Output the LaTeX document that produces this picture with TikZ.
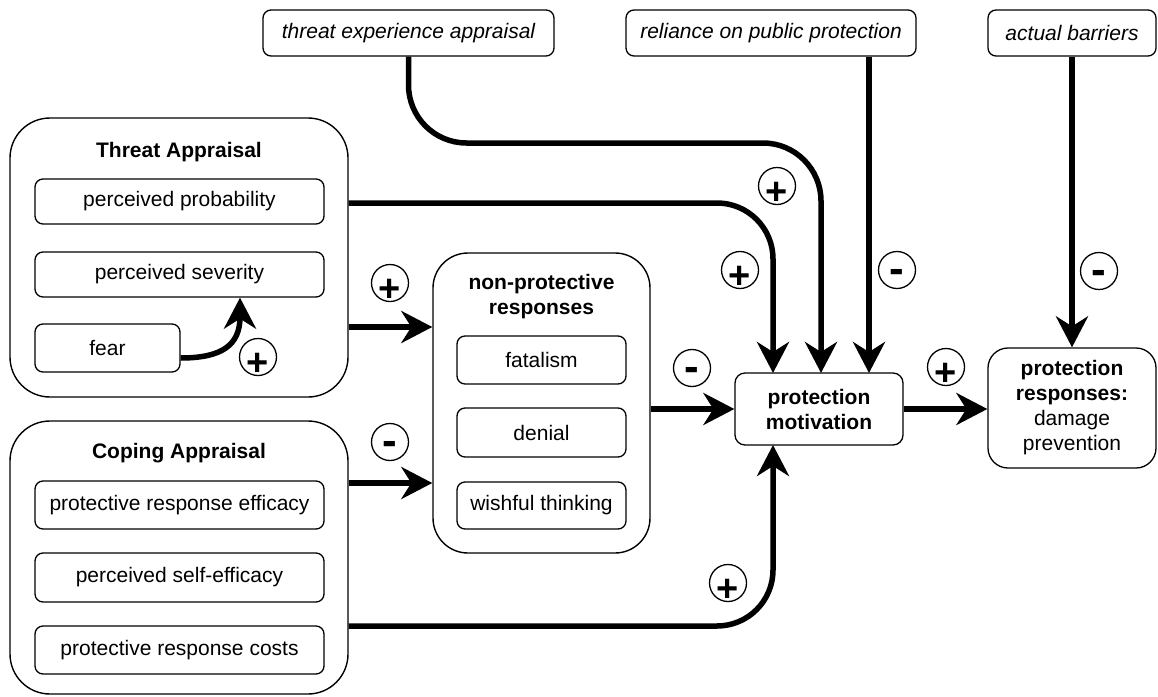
\documentclass[tikz,border=0pt]{standalone}
\usepackage{fontspec}
\setmainfont{Liberation Sans}
\usetikzlibrary{arrows.meta,calc}
\begin{document}
\begin{tikzpicture}[x=1pt,y=-1pt,
  every node/.style={font=\fontsize{21}{25}\selectfont},
  titlefont/.style={font=\fontsize{21}{25}\selectfont\bfseries},
  big/.style={draw, line width=1.4pt, rounded corners=40pt, inner sep=0pt},
  inbox/.style={draw, line width=1.3pt, rounded corners=8pt, inner sep=0pt, minimum width=289pt},
  topbox/.style={draw, line width=1.3pt, rounded corners=8pt, inner sep=0pt, minimum height=46pt, font=\fontsize{21}{25}\selectfont\itshape},
  conn/.style={line width=5.5pt, -{Stealth[length=31pt,width=32pt,inset=10pt]}},
  sg/.style={draw, circle, line width=1.3pt, minimum size=37pt, inner sep=0pt},
  plus/.style={sg, label={[font=\fontsize{38}{38}\selectfont\bfseries, yshift=-7pt]center:+}},
  minus/.style={sg, label={[font=\fontsize{44}{44}\selectfont\bfseries, yshift=-6.5pt]center:-}}
]
\useasboundingbox (0,0) rectangle (1158,696);

% top boxes
\node[topbox, minimum width=291pt] (tea) at (408.5,33) {threat experience appraisal};
\node[topbox, minimum width=290pt] (rpp) at (771,33) {reliance on public protection};
\node[topbox, minimum width=168pt] (ab) at (1072,33) {actual barriers};

% threat appraisal
\node[big, minimum width=338pt, minimum height=279pt] (ta) at (179,257.5) {};
\node[titlefont] (tat) at (179,152) {Threat Appraisal};
\node[inbox, minimum height=45pt] (pp) at (179.5,201.5) {perceived probability};
\node[inbox, minimum height=45pt] (ps) at (179.5,274.5) {perceived severity};
\node[inbox, minimum width=145pt, minimum height=48pt] (fear) at (107.5,348) {fear};

% coping appraisal
\node[big, minimum width=338pt, minimum height=273pt] (ca) at (179,557.5) {};
\node[titlefont] (cat) at (179,453) {Coping Appraisal};
\node[inbox, minimum height=48pt] (pre) at (179.5,505) {protective response efficacy};
\node[inbox, minimum height=49pt] (pse) at (179.5,577.5) {perceived self-efficacy};
\node[inbox, minimum height=48pt] (prc) at (179.5,650) {protective response costs};

% non-protective responses
\node[big, rounded corners=35pt, minimum width=217pt, minimum height=300pt] (np) at (541.5,403) {};
\node[titlefont, align=center] (npt) at (541.5,297) {non-protective\\responses};
\node[inbox, minimum width=169pt, minimum height=48pt] (fat) at (541.5,360) {fatalism};
\node[inbox, minimum width=169pt, minimum height=49pt] (den) at (541.5,432.5) {denial};
\node[inbox, minimum width=169pt, minimum height=47pt] (wis) at (541.5,505.5) {wishful thinking};

% protection motivation / responses
\node[draw, line width=1.3pt, rounded corners=10pt, minimum width=168pt, minimum height=72pt, inner sep=0pt, align=center, titlefont] (pm) at (819,409) {protection\\motivation};
\node[draw, line width=1.3pt, rounded corners=20pt, minimum width=168pt, minimum height=120pt, inner sep=0pt, align=center] (pr) at (1072,408) {\textbf{protection}\\\textbf{responses:}\\damage\\prevention};

\coordinate (pm1) at (773,373);
\coordinate (pm2) at (821,373);
\coordinate (pm3) at (869,373);
\coordinate (pm4) at (773,445);

% connectors
\draw[conn, rounded corners=58pt] (tea.south) -- (tea.south |- 0,143) -- (pm2 |- 0,143) -- (pm2);
\draw[conn, rounded corners=56pt] (ta.east |- 0,203) -- (pm1 |- 0,203) -- (pm1);
\draw[conn] (rpp.south -| pm3) -- (pm3);
\draw[conn] (ab.south) -- (pr.north);
\draw[conn] (ta.east |- 0,327) -- (np.west |- 0,327);
\draw[conn] (ca.east |- 0,483) -- (np.west |- 0,483);
\draw[conn] (np.east |- pm.west) -- (pm.west);
\draw[conn] (pm.east) -- (pr.west |- pm.east);
\draw[conn, rounded corners=56pt] (ca.east |- 0,626) -- (pm4 |- 0,626) -- (pm4);
\draw[conn] (fear.east |- 0,358) .. controls (222,358) and (240,345) .. (ps.south -| 240,0);

% signs
\node[plus] (s1) at (390,283) {};
\node[plus] (s2) at (258,357) {};
\node[minus] (s3) at (390,442) {};
\node[plus] (s4) at (777,186) {};
\node[plus] (s5) at (740,270) {};
\node[minus] (s6) at (897,270) {};
\node[minus] (s7) at (1099,271) {};
\node[minus] (s8) at (692,368) {};
\node[plus] (s9) at (946,367) {};
\node[plus] (s10) at (728,583) {};
\end{tikzpicture}
\end{document}
